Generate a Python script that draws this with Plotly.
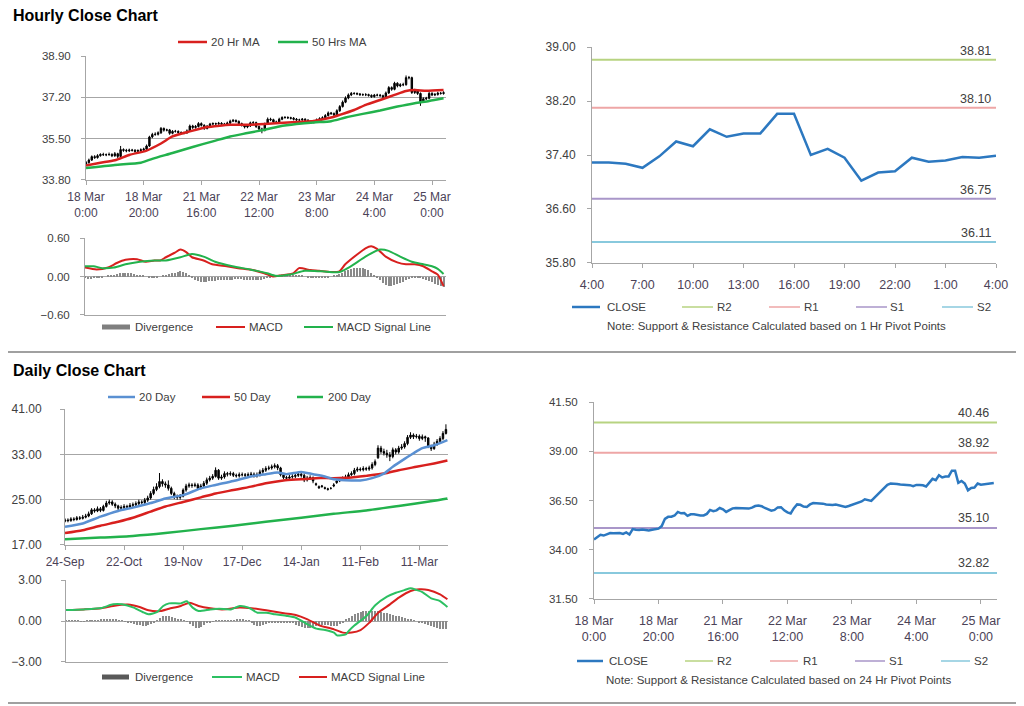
import plotly.graph_objects as go

# ---------------- DATA ----------------
hourly_tick_pos = [0, 20, 40, 60, 80, 100, 120]
hourly_tick_labels = ["18 Mar<br>0:00", "18 Mar<br>20:00", "21 Mar<br>16:00", "22 Mar<br>12:00",
                      "23 Mar<br>8:00", "24 Mar<br>4:00", "25 Mar<br>0:00"]

hourly_close = [
    34.52, 34.62, 34.76, 34.72, 34.80, 34.85, 34.84, 34.84, 34.85, 34.80,
    34.88, 34.77, 35.05, 35.02, 35.00, 35.03, 35.02, 34.98, 35.01, 35.04,
    35.07, 35.20, 35.57, 35.67, 35.68, 35.74, 35.92, 35.85, 35.86, 35.72,
    35.80, 35.80, 35.75, 35.74, 35.74, 35.82, 36.02, 35.96, 36.00, 36.12,
    36.05, 35.92, 36.01, 36.10, 36.12, 36.11, 36.13, 36.10, 36.09, 36.14,
    36.22, 36.25, 36.21, 36.12, 36.05, 35.98, 36.02, 36.15, 36.16, 36.00,
    35.90, 35.84, 36.11, 36.30, 36.28, 36.19, 36.17, 36.30, 36.37, 36.37,
    36.36, 36.34, 36.30, 36.27, 36.27, 36.30, 36.26, 36.21, 36.17, 36.22,
    36.28, 36.32, 36.36, 36.45, 36.56, 36.53, 36.48, 36.65, 36.82, 37.00,
    37.17, 37.30, 37.36, 37.36, 37.34, 37.31, 37.31, 37.31, 37.28, 37.23,
    37.29, 37.29, 37.27, 37.21, 37.38, 37.60, 37.53, 37.78, 37.67, 37.72,
    37.72, 38.01, 38.01, 37.40, 37.49, 37.36, 37.02, 37.14, 37.16, 37.36,
    37.30, 37.32, 37.37, 37.36, 37.39]
hourly_open = [
    34.45, 34.52, 34.62, 34.76, 34.72, 34.80, 34.85, 34.84, 34.84, 34.85,
    34.80, 34.88, 34.77, 35.05, 35.02, 35.00, 35.03, 35.02, 34.98, 35.01,
    35.04, 35.07, 35.20, 35.57, 35.67, 35.68, 35.74, 35.92, 35.85, 35.86,
    35.72, 35.80, 35.80, 35.75, 35.74, 35.74, 35.82, 36.02, 35.96, 36.00,
    36.12, 36.05, 35.92, 36.01, 36.10, 36.12, 36.11, 36.13, 36.10, 36.09,
    36.14, 36.22, 36.25, 36.21, 36.12, 36.05, 35.98, 36.02, 36.15, 36.16,
    36.00, 35.90, 35.84, 36.11, 36.30, 36.28, 36.19, 36.17, 36.30, 36.37,
    36.37, 36.36, 36.34, 36.30, 36.27, 36.27, 36.30, 36.26, 36.21, 36.17,
    36.22, 36.28, 36.32, 36.36, 36.45, 36.56, 36.53, 36.48, 36.65, 36.82,
    37.00, 37.17, 37.30, 37.36, 37.36, 37.34, 37.31, 37.31, 37.31, 37.28,
    37.23, 37.29, 37.29, 37.27, 37.21, 37.38, 37.60, 37.53, 37.78, 37.67,
    37.72, 37.72, 38.01, 38.01, 37.40, 37.49, 37.36, 37.02, 37.14, 37.16,
    37.36, 37.30, 37.32, 37.37, 37.36]
hourly_high = [
    34.58, 34.68, 34.81, 34.82, 34.86, 34.90, 34.92, 34.89, 34.93, 34.90,
    34.95, 34.92, 35.20, 35.10, 35.08, 35.09, 35.08, 35.07, 35.06, 35.10,
    35.13, 35.26, 35.62, 35.74, 35.76, 35.80, 35.98, 35.96, 35.91, 35.90,
    35.85, 35.86, 35.84, 35.80, 35.79, 35.88, 36.08, 36.07, 36.06, 36.18,
    36.17, 36.09, 36.06, 36.15, 36.17, 36.16, 36.19, 36.18, 36.15, 36.20,
    36.28, 36.31, 36.29, 36.25, 36.16, 36.10, 36.07, 36.20, 36.22, 36.20,
    36.04, 35.95, 36.16, 36.37, 36.36, 36.32, 36.24, 36.36, 36.42, 36.43,
    36.42, 36.40, 36.39, 36.35, 36.32, 36.35, 36.34, 36.30, 36.26, 36.27,
    36.33, 36.38, 36.42, 36.51, 36.62, 36.60, 36.58, 36.71, 36.88, 37.07,
    37.24, 37.36, 37.42, 37.41, 37.40, 37.38, 37.36, 37.37, 37.35, 37.32,
    37.34, 37.35, 37.34, 37.31, 37.44, 37.66, 37.65, 37.84, 37.82, 37.78,
    37.80, 38.10, 38.08, 38.05, 37.55, 37.54, 37.40, 37.20, 37.22, 37.42,
    37.41, 37.38, 37.43, 37.42, 37.45]
hourly_low = [
    34.38, 34.47, 34.58, 34.67, 34.68, 34.76, 34.79, 34.78, 34.80, 34.74,
    34.75, 34.70, 34.74, 34.96, 34.94, 34.95, 34.97, 34.92, 34.93, 34.96,
    34.99, 35.03, 35.16, 35.52, 35.62, 35.63, 35.70, 35.79, 35.80, 35.66,
    35.68, 35.75, 35.70, 35.69, 35.68, 35.70, 35.78, 35.90, 35.91, 35.96,
    36.00, 35.86, 35.88, 35.97, 36.05, 36.06, 36.07, 36.05, 36.04, 36.05,
    36.10, 36.18, 36.16, 36.07, 36.00, 35.92, 35.93, 35.98, 36.10, 35.94,
    35.84, 35.72, 35.80, 36.07, 36.22, 36.14, 36.12, 36.13, 36.26, 36.32,
    36.31, 36.29, 36.25, 36.22, 36.22, 36.23, 36.21, 36.16, 36.12, 36.13,
    36.18, 36.24, 36.28, 36.32, 36.41, 36.48, 36.43, 36.44, 36.60, 36.78,
    36.96, 37.12, 37.25, 37.31, 37.29, 37.26, 37.26, 37.25, 37.23, 37.18,
    37.19, 37.24, 37.22, 37.16, 37.17, 37.34, 37.47, 37.49, 37.61, 37.62,
    37.66, 37.68, 37.94, 37.34, 37.34, 37.30, 36.85, 36.97, 37.09, 37.12,
    37.25, 37.25, 37.27, 37.31, 37.31]

ma20_hr_pos = [0, 5, 10, 15, 21, 26, 30, 36, 42, 44, 50, 56, 62, 67, 73, 79, 85, 88, 93, 97,
               102, 107, 111, 114, 118, 124]
ma20_hr = [34.40, 34.51, 34.61, 34.83, 35.01, 35.30, 35.59, 35.80, 35.98, 36.00, 36.07, 36.07,
           36.10, 36.14, 36.19, 36.23, 36.37, 36.48, 36.68, 36.89, 37.09, 37.30, 37.46, 37.50,
           37.47, 37.50]
ma50_hr_pos = [0, 10, 19, 23, 30, 37, 44, 50, 56, 62, 67, 73, 79, 85, 90, 96, 102, 108, 114, 119, 124]
ma50_hr = [34.29, 34.42, 34.51, 34.67, 34.91, 35.16, 35.39, 35.59, 35.73, 35.87, 36.00, 36.10,
           36.17, 36.22, 36.37, 36.52, 36.66, 36.82, 36.96, 37.05, 37.16]

macd_hr_pos = [0, 4, 8, 11, 14, 18, 21, 24, 26, 28, 31, 33, 35, 37, 41, 44, 49, 53, 58, 62, 65, 68,
               72, 74, 78, 81, 85, 88, 90, 94, 97, 99, 101, 104, 108, 111, 114, 117, 120, 122, 124]
macd_hr = [0.14, 0.11, 0.14, 0.21, 0.26, 0.27, 0.23, 0.25, 0.25, 0.30, 0.37, 0.42, 0.38, 0.30,
           0.25, 0.19, 0.16, 0.13, 0.10, 0.05, 0.00, 0.02, 0.05, 0.13, 0.10, 0.09, 0.07, 0.08,
           0.19, 0.34, 0.44, 0.47, 0.43, 0.31, 0.22, 0.19, 0.19, 0.16, 0.08, 0.03, -0.15]
signal_hr_pos = [0, 3, 6, 10, 14, 19, 24, 28, 33, 37, 41, 45, 51, 57, 63, 66, 71, 76, 82, 88, 92,
                 97, 102, 105, 109, 113, 117, 120, 122, 124]
signal_hr = [0.16, 0.16, 0.13, 0.14, 0.19, 0.23, 0.25, 0.25, 0.30, 0.35, 0.31, 0.23, 0.16, 0.11,
             0.05, 0.01, 0.03, 0.09, 0.08, 0.07, 0.16, 0.31, 0.42, 0.40, 0.31, 0.23, 0.19, 0.16,
             0.12, 0.04]
divergence_hr = [
    -0.03, -0.04, -0.04, -0.03, -0.02, -0.02, -0.01, 0.00, 0.01, 0.02,
    0.03, 0.04, 0.05, 0.05, 0.06, 0.05, 0.05, 0.04, 0.03, 0.02,
    0.01, 0.00, -0.01, -0.02, -0.02, -0.01, 0.00, 0.01, 0.02, 0.04,
    0.05, 0.06, 0.07, 0.08, 0.07, 0.05, 0.02, -0.02, -0.05, -0.07,
    -0.08, -0.08, -0.08, -0.07, -0.07, -0.07, -0.06, -0.06, -0.06, -0.05,
    -0.05, -0.05, -0.04, -0.04, -0.04, -0.05, -0.05, -0.05, -0.06, -0.06,
    -0.06, -0.05, -0.04, -0.02, -0.01, 0.00, 0.01, 0.01, 0.02, 0.02,
    0.02, 0.03, 0.03, 0.03, 0.02, 0.01, 0.00, -0.01, -0.02, -0.02,
    -0.02, -0.02, -0.02, -0.02, -0.01, 0.00, 0.01, 0.02, 0.04, 0.06,
    0.08, 0.10, 0.12, 0.13, 0.14, 0.14, 0.13, 0.12, 0.10, 0.06,
    0.02, -0.02, -0.06, -0.10, -0.13, -0.15, -0.15, -0.14, -0.12, -0.10,
    -0.08, -0.06, -0.04, -0.03, -0.02, -0.02, -0.03, -0.04, -0.05, -0.07,
    -0.09, -0.11, -0.13, -0.15, -0.16]

session_tick_pos = [0, 3, 6, 9, 12, 15, 18, 21, 24]
session_tick_labels = ["4:00", "7:00", "10:00", "13:00", "16:00", "19:00", "22:00", "1:00", "4:00"]
session_close = hourly_close[-25:]

pivot_names = ["R2", "R1", "S1", "S2"]
pivot_1h = [38.81, 38.10, 36.75, 36.11]
pivot_24h = [40.46, 38.92, 35.10, 32.82]

daily_tick_pos = [0, 20, 40, 60, 80, 100, 120]
daily_tick_labels = ["24-Sep", "22-Oct", "19-Nov", "17-Dec", "14-Jan", "11-Feb", "11-Mar"]
daily_close = [
    21.4, 21.3, 21.6, 21.5, 21.8, 21.7, 21.9, 22.1, 22.5, 23.2,
    23.0, 23.4, 23.1, 23.8, 24.4, 24.6, 24.2, 23.9, 23.5, 23.6,
    23.8, 23.7, 24.0, 24.1, 24.3, 24.6, 24.5, 24.9, 25.3, 26.1,
    26.8, 27.3, 28.2, 27.8, 27.6, 27.0, 26.1, 25.5, 25.4, 25.6,
    26.7, 27.4, 27.6, 27.5, 27.6, 27.0, 27.4, 27.9, 28.5, 28.8,
    29.1, 30.2, 28.8, 29.0, 29.6, 29.5, 29.6, 29.3, 29.2, 29.4,
    29.4, 29.3, 29.4, 29.5, 29.2, 29.4, 29.9, 30.2, 30.5, 30.6,
    30.8, 31.0, 30.6, 29.4, 28.9, 28.8, 29.0, 29.1, 29.3, 29.5,
    29.3, 28.5, 28.8, 28.9, 28.3, 27.7, 27.1, 27.4, 27.0, 26.9,
    27.0, 27.6, 28.3, 28.5, 28.8, 29.0, 29.4, 29.6, 30.2, 30.4,
    30.3, 30.5, 30.4, 30.6, 31.2, 31.7, 34.1, 33.5, 33.2, 32.9,
    32.6, 33.8, 33.4, 34.1, 34.3, 34.9, 36.0, 36.4, 36.1, 36.2,
    35.8, 36.1, 35.9, 34.4, 34.0, 34.8, 35.3, 35.8, 36.7, 37.4]
daily_open = [
    21.2, 21.4, 21.3, 21.6, 21.5, 21.8, 21.7, 21.9, 22.1, 22.5,
    23.2, 23.0, 23.4, 23.1, 23.8, 24.4, 24.6, 24.2, 23.9, 23.5,
    23.6, 23.8, 23.7, 24.0, 24.1, 24.3, 24.6, 24.5, 24.9, 25.3,
    26.1, 26.8, 27.3, 28.2, 27.8, 27.6, 27.0, 26.1, 25.5, 25.4,
    25.6, 26.7, 27.4, 27.6, 27.5, 27.6, 27.0, 27.4, 27.9, 28.5,
    28.8, 29.1, 30.2, 28.8, 29.0, 29.6, 29.5, 29.6, 29.3, 29.2,
    29.4, 29.4, 29.3, 29.4, 29.5, 29.2, 29.4, 29.9, 30.2, 30.5,
    30.6, 30.8, 31.0, 30.6, 29.4, 28.9, 28.8, 29.0, 29.1, 29.3,
    29.5, 29.3, 28.5, 28.8, 28.9, 27.8, 27.3, 27.3, 27.1, 26.8,
    27.0, 27.4, 28.0, 28.3, 28.5, 28.8, 29.0, 29.4, 29.6, 30.2,
    30.4, 30.3, 30.5, 30.4, 30.6, 31.2, 32.4, 34.1, 33.5, 33.2,
    32.9, 32.6, 33.8, 33.4, 34.1, 34.3, 34.9, 36.0, 36.4, 36.1,
    36.2, 35.8, 36.1, 35.9, 34.4, 34.0, 34.8, 35.3, 35.8, 36.7]
daily_high = [
    21.7, 21.7, 21.9, 21.9, 22.1, 22.1, 22.3, 22.5, 22.9, 23.5,
    23.5, 23.8, 23.7, 24.1, 24.8, 25.0, 24.9, 24.5, 24.1, 24.0,
    24.2, 24.1, 24.4, 24.5, 24.7, 25.0, 24.9, 25.3, 25.7, 26.5,
    27.3, 27.9, 29.7, 28.6, 28.2, 28.4, 27.3, 26.4, 25.9, 26.0,
    27.0, 27.8, 28.0, 27.9, 28.0, 27.9, 27.8, 28.3, 28.9, 29.2,
    29.5, 30.7, 30.4, 29.4, 30.0, 29.9, 30.0, 29.9, 29.6, 29.8,
    29.8, 29.7, 29.8, 29.9, 29.8, 29.8, 30.3, 30.6, 30.9, 31.0,
    31.2, 31.4, 31.3, 30.8, 29.7, 29.2, 29.4, 29.5, 29.7, 29.9,
    29.8, 29.6, 29.2, 29.3, 29.1, 28.0, 27.5, 27.6, 27.3, 27.1,
    27.2, 27.9, 28.6, 28.8, 29.1, 29.4, 29.8, 30.0, 30.6, 30.8,
    30.7, 30.9, 30.8, 31.0, 31.6, 32.1, 34.6, 34.5, 34.0, 33.8,
    33.4, 34.2, 34.1, 34.5, 34.8, 35.3, 36.4, 36.9, 36.7, 36.6,
    36.5, 36.5, 36.3, 36.0, 34.7, 35.2, 35.7, 36.2, 37.1, 38.3]
daily_low = [
    21.0, 21.0, 21.1, 21.2, 21.3, 21.4, 21.5, 21.7, 21.9, 22.3,
    22.7, 22.8, 22.8, 22.9, 23.6, 24.1, 23.9, 23.5, 23.1, 23.2,
    23.3, 23.4, 23.4, 23.7, 23.8, 24.0, 24.2, 24.2, 24.6, 25.0,
    25.8, 26.5, 27.0, 27.3, 27.1, 26.6, 25.8, 25.1, 25.0, 25.0,
    25.4, 26.4, 27.1, 27.1, 27.2, 26.7, 26.8, 27.1, 27.6, 28.2,
    28.5, 28.9, 28.5, 28.5, 28.7, 29.1, 29.2, 29.0, 28.9, 28.9,
    29.1, 29.0, 29.0, 29.1, 28.9, 28.9, 29.1, 29.6, 29.9, 30.2,
    30.3, 30.5, 30.2, 29.1, 28.6, 28.4, 28.5, 28.7, 28.8, 29.0,
    28.9, 28.1, 28.2, 28.5, 27.9, 27.4, 26.9, 27.1, 26.8, 26.6,
    26.8, 27.2, 27.8, 28.1, 28.3, 28.6, 28.7, 29.2, 29.3, 29.9,
    30.0, 30.0, 30.1, 30.1, 30.3, 30.9, 32.2, 33.1, 32.8, 32.4,
    31.8, 32.3, 33.0, 33.1, 33.8, 34.0, 34.6, 35.7, 35.7, 35.8,
    35.4, 35.5, 35.2, 34.1, 33.6, 33.8, 34.5, 35.0, 35.5, 36.5]

ma20_d_pos = [0, 6, 12, 18, 23, 29, 34, 40, 46, 51, 57, 63, 68, 72, 75, 80, 84, 88, 91, 97, 100,
              104, 108, 111, 115, 118, 121, 125, 129.5]
ma20_d = [20.2, 20.8, 22.0, 23.0, 23.6, 24.4, 25.2, 25.8, 27.0, 27.6, 28.3, 29.1, 29.5, 29.8,
          29.5, 29.9, 29.5, 29.1, 28.6, 28.4, 28.4, 28.8, 29.6, 30.8, 32.2, 33.2, 34.1, 34.6, 35.5]
ma50_d_pos = [0, 6, 12, 18, 23, 29, 34, 40, 46, 51, 57, 63, 68, 74, 80, 85, 91, 97, 102, 108,
              113, 119, 125, 129.5]
ma50_d = [19.1, 19.6, 20.4, 21.1, 21.8, 22.9, 23.8, 24.6, 25.4, 26.1, 26.7, 27.3, 27.9, 28.4,
          28.6, 28.8, 28.8, 28.9, 29.2, 29.6, 30.2, 30.8, 31.4, 31.9]
ma200_d_pos = [0, 12, 23, 34, 46, 57, 68, 80, 91, 102, 113, 125, 129.5]
ma200_d = [18.0, 18.3, 18.6, 19.1, 19.8, 20.4, 21.1, 21.8, 22.5, 23.1, 23.9, 24.8, 25.2]

macd_d_pos = [0, 6, 12, 16, 19, 23, 26, 28, 31, 33, 35, 39, 41, 43, 45, 49, 52, 56, 59, 62, 65,
              68, 71, 75, 78, 82, 85, 88, 91, 92, 95, 96, 98, 102, 105, 109, 112, 115, 117, 119,
              121, 124, 127, 129.5]
macd_d = [0.80, 0.85, 0.95, 1.22, 1.22, 0.98, 0.66, 0.49, 0.66, 1.10, 1.29, 1.29, 1.44, 0.98,
          0.73, 0.85, 0.90, 0.85, 1.10, 0.98, 0.61, 0.61, 0.49, 0.37, 0.24, -0.24, -0.56, -0.66,
          -0.85, -1.05, -0.98, -0.73, -0.32, 0.37, 1.15, 1.78, 2.07, 2.27, 2.39, 2.27, 2.12, 1.66,
          1.46, 1.02]
signal_d_pos = [0, 6, 12, 16, 21, 25, 28, 32, 35, 39, 42, 45, 49, 53, 59, 63, 68, 74, 78, 82, 86,
                91, 94, 97, 100, 103, 106, 110, 113, 117, 120, 123, 127, 129.5]
signal_d = [0.80, 0.85, 0.93, 1.10, 1.20, 1.02, 0.78, 0.73, 0.90, 1.10, 1.34, 1.10, 0.93, 0.85,
            0.98, 0.93, 0.78, 0.56, 0.44, 0.12, -0.32, -0.61, -0.85, -0.85, -0.66, -0.12, 0.61,
            1.22, 1.71, 2.20, 2.32, 2.27, 1.95, 1.59]
divergence_d = [
    0.02, 0.01, 0.03, 0.02, 0.01, -0.02, -0.03, 0.02, 0.04, 0.05,
    0.04, 0.05, 0.08, 0.10, 0.12, 0.13, 0.12, 0.10, 0.06, 0.03,
    -0.03, -0.08, -0.15, -0.20, -0.26, -0.30, -0.33, -0.35, -0.32, -0.22,
    -0.10, 0.05, 0.22, 0.33, 0.38, 0.36, 0.28, 0.20, 0.15, 0.10,
    0.06, -0.05, -0.22, -0.38, -0.50, -0.52, -0.42, -0.28, -0.15, -0.08,
    -0.04, 0.02, 0.05, 0.04, 0.02, 0.01, 0.03, 0.06, 0.10, 0.12,
    0.10, 0.06, 0.02, -0.15, -0.32, -0.38, -0.35, -0.28, -0.22, -0.18,
    -0.12, -0.10, -0.10, -0.12, -0.10, -0.10, -0.12, -0.18, -0.26, -0.35,
    -0.42, -0.48, -0.50, -0.48, -0.42, -0.38, -0.35, -0.32, -0.30, -0.32,
    -0.36, -0.40, -0.38, -0.25, -0.10, 0.08, 0.22, 0.38, 0.52, 0.62,
    0.68, 0.72, 0.75, 0.76, 0.74, 0.72, 0.70, 0.66, 0.60, 0.55,
    0.50, 0.45, 0.40, 0.34, 0.28, 0.22, 0.16, 0.10, 0.05, 0.00,
    -0.08, -0.15, -0.22, -0.30, -0.38, -0.45, -0.50, -0.55, -0.58, -0.62]

# ---------------- STYLE ----------------
# the page body has an 8px margin, so the figure is 8px smaller and all
# reference pixel positions are shifted by that offset
OFF = 8
W, H = 1024 - OFF, 706 - OFF
FONT = "Liberation Sans, Arial, sans-serif"
GRID = "#a6a6a6"
TXT = "#404040"
XTXT = "#4b4257"
RED = "#d8201e"
GREEN = "#22b24c"
BLUE = "#2c78c0"
LBLUE = "#5a90d2"
DIVC = "#8a8a8a"
PIV_COL = ["#b7d381", "#eea6a6", "#a996c9", "#88c9dd"]

hourly_idx = list(range(len(hourly_close)))
daily_idx = list(range(len(daily_close)))
session_idx = list(range(len(session_close)))


def PX(x):
    return (x - OFF) / W


def PY(y):
    return 1 - (y - OFF) / H


def xd(a, b):
    return [PX(a), PX(b)]


def yd(top, bottom):
    return [PY(bottom), PY(top)]


fig = go.Figure()


def axes(n, xpx, ypx, xr, yr, ytv, xtv=None, xtt=None, grid=True, xstand=2, ystand=4,
         yfs=11.5, xfs=12, xticks=True):
    sx = "" if n == 1 else str(n)
    eps = (yr[1] - yr[0]) * 1e-4
    fig.layout["xaxis" + sx] = dict(
        domain=xd(*xpx), range=xr, anchor="y" + sx, showgrid=False, zeroline=False,
        showline=True, linecolor=GRID, linewidth=1, automargin=False,
        tickmode="array", tickvals=xtv if xtv else [], ticktext=xtt if xtt else [],
        ticks="outside" if xticks else "", ticklen=4, tickcolor=GRID,
        tickfont=dict(family=FONT, size=xfs, color=XTXT), ticklabelstandoff=xstand,
        fixedrange=True, rangeslider=dict(visible=False))
    fig.layout["yaxis" + sx] = dict(
        domain=yd(*ypx), range=[yr[0] - eps, yr[1] + eps], anchor="x" + sx,
        showgrid=grid, gridcolor=GRID, gridwidth=1, zeroline=False,
        showline=True, linecolor=GRID, linewidth=1, automargin=False,
        tickmode="array", tickvals=ytv, tickformat=".2f",
        ticks="outside", ticklen=4, tickcolor=GRID,
        tickfont=dict(family=FONT, size=yfs, color=TXT), ticklabelstandoff=ystand,
        fixedrange=True)


# panel geometry (reference pixels)
axes(1, (86, 446), (56, 180), [0, 124.85], [33.8, 38.9], [33.8, 35.5, 37.2, 38.9],
     hourly_tick_pos, hourly_tick_labels, ystand=8)
axes(2, (85, 446), (238, 315), [0, 124.85], [-0.6, 0.6], [-0.6, 0.0, 0.6], xticks=False, ystand=8)
axes(3, (592, 996), (47, 263), [0, 24], [35.8, 39.0], [35.8, 36.6, 37.4, 38.2, 39.0],
     session_tick_pos, session_tick_labels, grid=False, ystand=9, yfs=12, xfs=12.5, xstand=6)
axes(4, (65, 448), (409, 545), [0, 129.7], [17, 41], [17, 25, 33, 41],
     daily_tick_pos, daily_tick_labels, ystand=16, yfs=12)
axes(5, (66, 448), (580, 662), [0, 129.7], [-3, 3], [-3, 0, 3], xticks=False, ystand=17, yfs=12)
axes(6, (594, 997), (402, 599), [0, 125], [31.5, 41.5], [31.5, 34.0, 36.5, 39.0, 41.5],
     hourly_tick_pos, hourly_tick_labels, grid=False, ystand=9, xfs=12.5, xstand=6)

candle_style = dict(line=dict(color="#000000", width=1), fillcolor="#000000")

# ---- Panel 1: hourly candles + MAs
fig.add_trace(go.Candlestick(x=hourly_idx, open=hourly_open, high=hourly_high, low=hourly_low,
                             close=hourly_close, xaxis="x", yaxis="y", whiskerwidth=0,
                             increasing=candle_style, decreasing=candle_style,
                             showlegend=False, hoverinfo="skip"))
fig.add_trace(go.Scatter(x=ma20_hr_pos, y=ma20_hr, mode="lines", xaxis="x", yaxis="y",
                         line=dict(color=RED, width=2.5, shape="spline", smoothing=0.6),
                         showlegend=False))
fig.add_trace(go.Scatter(x=ma50_hr_pos, y=ma50_hr, mode="lines", xaxis="x", yaxis="y",
                         line=dict(color=GREEN, width=2.5, shape="spline", smoothing=0.6),
                         showlegend=False))

# ---- Panel 2: hourly MACD
fig.add_trace(go.Bar(x=hourly_idx, y=divergence_hr, xaxis="x2", yaxis="y2", width=0.35,
                     marker=dict(color=DIVC, line=dict(width=0)), showlegend=False))
fig.add_trace(go.Scatter(x=macd_hr_pos, y=macd_hr, mode="lines", xaxis="x2", yaxis="y2",
                         line=dict(color=RED, width=2, shape="spline", smoothing=0.6),
                         showlegend=False))
fig.add_trace(go.Scatter(x=signal_hr_pos, y=signal_hr, mode="lines", xaxis="x2", yaxis="y2",
                         line=dict(color=GREEN, width=2, shape="spline", smoothing=0.6),
                         showlegend=False))

# ---- Panel 3: last session close + 1h pivots
for name, val, col in zip(pivot_names, pivot_1h, PIV_COL):
    fig.add_trace(go.Scatter(x=[session_idx[0], session_idx[-1]], y=[val, val], mode="lines",
                             xaxis="x3", yaxis="y3", line=dict(color=col, width=2),
                             showlegend=False))
    fig.add_annotation(x=session_idx[-1], y=val, xref="x3", yref="y3", text=f"{val:.2f}",
                       showarrow=False, xanchor="right", yanchor="middle", xshift=-3, yshift=9,
                       font=dict(family=FONT, size=12.5, color=TXT))
fig.add_trace(go.Scatter(x=session_idx, y=session_close, mode="lines", xaxis="x3", yaxis="y3",
                         line=dict(color=BLUE, width=2.5), showlegend=False))

# ---- Panel 4: daily candles + MAs
fig.add_trace(go.Candlestick(x=daily_idx, open=daily_open, high=daily_high, low=daily_low,
                             close=daily_close, xaxis="x4", yaxis="y4", whiskerwidth=0,
                             increasing=candle_style, decreasing=candle_style,
                             showlegend=False, hoverinfo="skip"))
fig.add_trace(go.Scatter(x=ma200_d_pos, y=ma200_d, mode="lines", xaxis="x4", yaxis="y4",
                         line=dict(color=GREEN, width=2.5, shape="spline", smoothing=0.6),
                         showlegend=False))
fig.add_trace(go.Scatter(x=ma50_d_pos, y=ma50_d, mode="lines", xaxis="x4", yaxis="y4",
                         line=dict(color=RED, width=2.5, shape="spline", smoothing=0.6),
                         showlegend=False))
fig.add_trace(go.Scatter(x=ma20_d_pos, y=ma20_d, mode="lines", xaxis="x4", yaxis="y4",
                         line=dict(color=LBLUE, width=2.5, shape="spline", smoothing=0.6),
                         showlegend=False))

# ---- Panel 5: daily MACD
fig.add_trace(go.Bar(x=daily_idx, y=divergence_d, xaxis="x5", yaxis="y5", width=0.35,
                     marker=dict(color=DIVC, line=dict(width=0)), showlegend=False))
fig.add_trace(go.Scatter(x=signal_d_pos, y=signal_d, mode="lines", xaxis="x5", yaxis="y5",
                         line=dict(color=RED, width=2, shape="spline", smoothing=0.6),
                         showlegend=False))
fig.add_trace(go.Scatter(x=macd_d_pos, y=macd_d, mode="lines", xaxis="x5", yaxis="y5",
                         line=dict(color="#2cc062", width=2, shape="spline", smoothing=0.6),
                         showlegend=False))

# ---- Panel 6: hourly close + 24h pivots
for name, val, col in zip(pivot_names, pivot_24h, PIV_COL):
    fig.add_trace(go.Scatter(x=[hourly_idx[0], 125], y=[val, val], mode="lines",
                             xaxis="x6", yaxis="y6", line=dict(color=col, width=2),
                             showlegend=False))
    fig.add_annotation(x=125, y=val, xref="x6", yref="y6", text=f"{val:.2f}",
                       showarrow=False, xanchor="right", yanchor="middle", xshift=-6, yshift=10,
                       font=dict(family=FONT, size=12.5, color=TXT))
fig.add_trace(go.Scatter(x=hourly_idx, y=hourly_close, mode="lines", xaxis="x6", yaxis="y6",
                         line=dict(color=BLUE, width=2.5), showlegend=False))

# ---------------- legends (drawn) ----------------
shapes = []
annos = []


def leg_line(x0, x1, y, color, width=2.5):
    shapes.append(dict(type="line", xref="paper", yref="paper", x0=PX(x0), x1=PX(x1),
                       y0=PY(y), y1=PY(y), line=dict(color=color, width=width)))


def leg_box(x0, x1, y, color):
    shapes.append(dict(type="rect", xref="paper", yref="paper", x0=PX(x0), x1=PX(x1),
                       y0=PY(y + 2.5), y1=PY(y - 2.5), fillcolor=color,
                       line=dict(width=0)))


def text(x, y, s, size=11.5, color=TXT, anchor="left"):
    annos.append(dict(x=PX(x), y=PY(y), xref="paper", yref="paper", text=s,
                      showarrow=False, xanchor=anchor, yanchor="middle",
                      font=dict(family=FONT, size=size, color=color)))


# titles
text(11, 16, "<b>Hourly Close Chart</b>", size=16, color="#000000")
text(11, 370, "<b>Daily Close Chart</b>", size=16, color="#000000")

# hourly price legend
leg_line(178, 207, 42, RED); text(209, 42, "20 Hr MA")
leg_line(278, 308, 42, GREEN); text(310, 42, "50 Hrs MA")
# hourly MACD legend
leg_box(102, 130, 327, "#7f7f7f"); text(133, 327, "Divergence")
leg_line(216, 245, 327, RED, 2); text(247, 327, "MACD")
leg_line(304, 333, 327, GREEN, 2); text(335, 327, "MACD Signal Line")
# session legend + note
leg_line(572, 600, 307, BLUE); text(605, 307, "CLOSE")
for (x0, x1, xt), name, col in zip([(682, 713, 715), (769, 800, 802), (856, 887, 888),
                                   (942, 973, 975)], pivot_names, PIV_COL):
    leg_line(x0, x1, 307, col, 1.5); text(xt, 307, name)
text(776, 326, "Note: Support & Resistance Calculated based on 1 Hr Pivot Points", anchor="center")

# daily price legend
leg_line(108, 135, 397, LBLUE); text(137, 397, "20 Day")
leg_line(202, 230, 397, RED); text(232, 397, "50 Day")
leg_line(297, 323, 397, GREEN); text(326, 397, "200 Day")
# daily MACD legend
leg_box(102, 129, 677, "#595959"); text(133, 677, "Divergence")
leg_line(212, 242, 677, "#2cc062", 2); text(244, 677, "MACD")
leg_line(299, 327, 677, RED, 2); text(329, 677, "MACD Signal Line")
# 24h legend + note
leg_line(577, 603, 661, BLUE); text(607, 661, "CLOSE")
for (x0, x1, xt), name, col in zip([(685, 713, 715), (770, 798, 801), (855, 885, 887),
                                   (941, 970, 972)], pivot_names, PIV_COL):
    leg_line(x0, x1, 661, col, 1.5); text(xt, 661, name)
text(778, 680, "Note: Support & Resistance Calculated based on 24 Hr Pivot Points", anchor="center")

# separators
for y in (352, 703):
    shapes.append(dict(type="line", xref="paper", yref="paper", x0=0.0, x1=1.0,
                       y0=PY(y), y1=PY(y), line=dict(color="#a0a0a0", width=2)))

fig.update_layout(width=W, height=H, margin=dict(l=0, r=0, t=0, b=0, autoexpand=False),
                  paper_bgcolor="white", plot_bgcolor="white", showlegend=False,
                  shapes=shapes, annotations=list(fig.layout.annotations) + annos,
                  bargap=0, font=dict(family=FONT, color=TXT), hovermode=False)

fig.write_html("out.html", config={"displayModeBar": False})
